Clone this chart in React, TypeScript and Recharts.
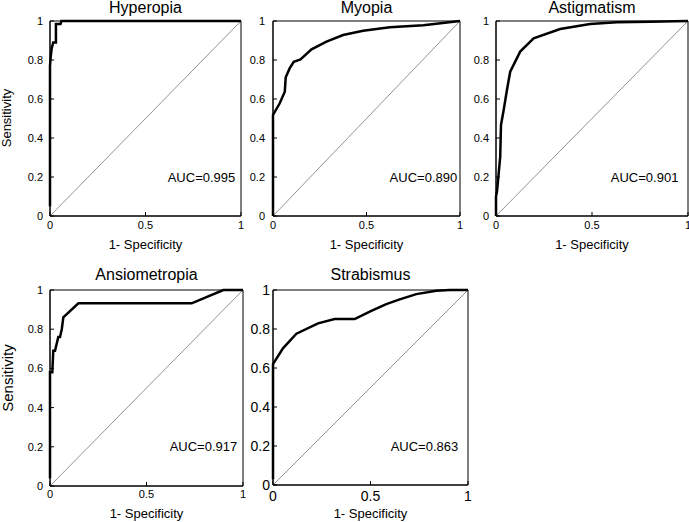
import {
  LineChart,
  Line,
  XAxis,
  YAxis,
  ReferenceLine,
  ReferenceArea,
  ReferenceDot,
} from "recharts";

const FONT = '"Liberation Sans", Arial, Helvetica, sans-serif';

// ROC points (1 - specificity, sensitivity)
const hyperopiaFpr = [0, 0, 0.004, 0.009, 0.017, 0.031, 0.031, 0.055, 0.06, 1];
const hyperopiaTpr = [0.05, 0.77, 0.82, 0.86, 0.89, 0.89, 0.985, 0.985, 1, 1];

const myopiaFpr = [0, 0, 0.036, 0.063, 0.068, 0.089, 0.111, 0.147, 0.206, 0.286, 0.375, 0.482, 0.625, 0.804, 1];
const myopiaTpr = [0, 0.518, 0.578, 0.637, 0.711, 0.757, 0.791, 0.803, 0.855, 0.894, 0.928, 0.95, 0.968, 0.978, 1];

const astigmatismFpr = [0, 0, 0.005, 0.014, 0.022, 0.026, 0.04, 0.057, 0.074, 0.126, 0.196, 0.334, 0.49, 0.629, 0.802, 1];
const astigmatismTpr = [0, 0.1, 0.125, 0.219, 0.304, 0.467, 0.544, 0.646, 0.74, 0.843, 0.911, 0.959, 0.985, 0.993, 0.996, 1];

const ansiometropiaFpr = [0, 0, 0.012, 0.017, 0.026, 0.043, 0.052, 0.061, 0.069, 0.147, 0.734, 0.898, 1];
const ansiometropiaTpr = [0.04, 0.58, 0.58, 0.69, 0.69, 0.76, 0.76, 0.8, 0.86, 0.932, 0.932, 1, 1];

const strabismusFpr = [0, 0, 0.051, 0.12, 0.231, 0.316, 0.419, 0.496, 0.581, 0.65, 0.735, 0.838, 0.906, 1];
const strabismusTpr = [0.03, 0.62, 0.701, 0.776, 0.829, 0.851, 0.851, 0.889, 0.928, 0.952, 0.979, 0.996, 1, 1];

const titles = ["Hyperopia", "Myopia", "Astigmatism", "Ansiometropia", "Strabismus"];
const aucLabels = ["AUC=0.995", "AUC=0.890", "AUC=0.901", "AUC=0.917", "AUC=0.863"];
const xTicks = [0, 0.5, 1];
const yTicks = [0, 0.2, 0.4, 0.6, 0.8, 1];

type Panel = {
  title: string;
  auc: string;
  fpr: number[];
  tpr: number[];
  left: number;
  top: number;
  w: number;
  h: number;
  tickFont: number;
  xGap: number;
  yGap: number;
  aucX: number;
  titleY: number;
  xLabelY: number;
};

const panels: Panel[] = [
  { title: titles[0], auc: aucLabels[0], fpr: hyperopiaFpr, tpr: hyperopiaTpr, left: 50, top: 21, w: 191, h: 195, tickFont: 11, xGap: 9, yGap: 11, aucX: 0.97, titleY: 12.5, xLabelY: 248.5 },
  { title: titles[1], auc: aucLabels[1], fpr: myopiaFpr, tpr: myopiaTpr, left: 273, top: 21, w: 187, h: 195, tickFont: 11, xGap: 9, yGap: 12, aucX: 0.985, titleY: 12.5, xLabelY: 248.5 },
  { title: titles[2], auc: aucLabels[2], fpr: astigmatismFpr, tpr: astigmatismTpr, left: 496, top: 21, w: 192, h: 195, tickFont: 11, xGap: 9, yGap: 11, aucX: 0.95, titleY: 12.5, xLabelY: 248.5 },
  { title: titles[3], auc: aucLabels[3], fpr: ansiometropiaFpr, tpr: ansiometropiaTpr, left: 50, top: 290, w: 193, h: 196, tickFont: 11, xGap: 8, yGap: 11, aucX: 0.97, titleY: 280, xLabelY: 517.5 },
  { title: titles[4], auc: aucLabels[4], fpr: strabismusFpr, tpr: strabismusTpr, left: 273, top: 290, w: 195, h: 195, tickFont: 14, xGap: 10, yGap: 7, aucX: 0.95, titleY: 280, xLabelY: 517.5 },
];

const Y_W = 40;
const X_H = 30;
const TOP = 10;
const RIGHT = 12;

function RocPanel({ p }: { p: Panel }) {
  const data = p.fpr.map((f, i) => ({ fpr: f, tpr: p.tpr[i] }));
  const tick = { fontSize: p.tickFont, fill: "#000", fontFamily: FONT };
  return (
    <div style={{ position: "absolute", left: p.left - Y_W, top: p.top - TOP }}>
      <LineChart
        width={Y_W + p.w + RIGHT}
        height={TOP + p.h + X_H}
        data={data}
        margin={{ top: TOP, right: RIGHT, bottom: 0, left: 0 }}
      >
        <XAxis
          type="number"
          dataKey="fpr"
          domain={[0, 1]}
          ticks={xTicks}
          interval={0}
          height={X_H}
          tickSize={-4}
          tickMargin={p.xGap}
          stroke="#000"
          tick={tick}
        />
        <YAxis
          type="number"
          domain={[0, 1]}
          ticks={yTicks}
          interval={0}
          width={Y_W}
          tickSize={-4}
          tickMargin={p.yGap}
          stroke="#000"
          tick={tick}
        />
        <ReferenceArea x1={0} x2={1} y1={0} y2={1} fill="none" fillOpacity={0} stroke="#000" strokeWidth={1} />
        <ReferenceLine segment={[{ x: 0, y: 0 }, { x: 1, y: 1 }]} stroke="#777" strokeWidth={0.8} />
        <Line type="linear" dataKey="tpr" stroke="#000" strokeWidth={2.5} dot={false} isAnimationActive={false} />
        <ReferenceDot
          x={p.aucX}
          y={0.2}
          r={0}
          fill="none"
          stroke="none"
          label={{ value: p.auc, position: "left", offset: 0, fontSize: 13, fill: "#000", fontFamily: FONT }}
        />
      </LineChart>
    </div>
  );
}

export default function App() {
  return (
    <div
      style={{
        position: "absolute",
        left: 0,
        top: 0,
        width: 689,
        height: 522,
        background: "#fff",
        overflow: "hidden",
        fontFamily: FONT,
      }}
    >
      {panels.map((p) => (
        <RocPanel key={p.title} p={p} />
      ))}
      <svg width={689} height={522} style={{ position: "absolute", left: 0, top: 0, pointerEvents: "none" }}>
        {panels.map((p) => (
          <g key={p.title} fontFamily={FONT} fill="#000">
            <text x={p.left + p.w / 2} y={p.titleY} fontSize={16} textAnchor="middle">
              {p.title}
            </text>
            <text x={p.left + p.w / 2} y={p.xLabelY} fontSize={13} textAnchor="middle">
              1- Specificity
            </text>
          </g>
        ))}
        <text x={11} y={118} fontSize={13} textAnchor="middle" transform="rotate(-90 11 118)" fontFamily={FONT}>
          Sensitivity
        </text>
        <text x={13} y={378} fontSize={15} textAnchor="middle" transform="rotate(-90 13 378)" fontFamily={FONT}>
          Sensitivity
        </text>
      </svg>
    </div>
  );
}
